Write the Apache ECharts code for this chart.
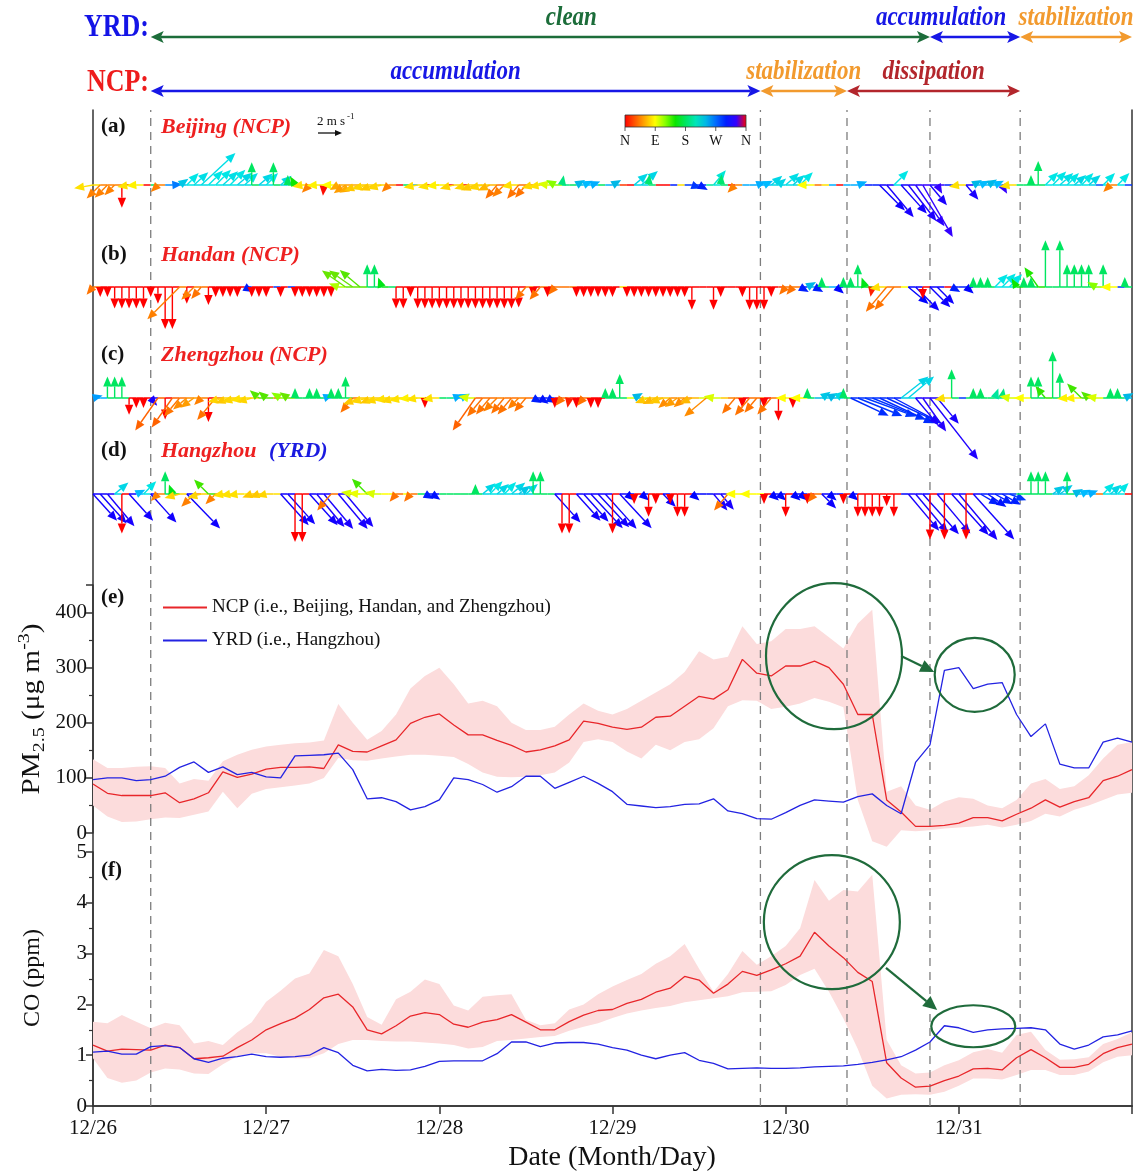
<!DOCTYPE html>
<html>
<head>
<meta charset="utf-8">
<title>Wind, PM2.5 and CO over NCP and YRD</title>
<script src="https://cdn.jsdelivr.net/npm/echarts@6/dist/echarts.min.js"></script>
<style>
html,body{margin:0;padding:0;background:#fff;}
#chart{width:1140px;height:1173px;}
</style>
</head>
<body>
<div id="chart"></div>
<script>
// x axis is hours since 12/26 00:00
var dayLabels = ['12/26', '12/27', '12/28', '12/29', '12/30', '12/31'];
var phaseBreaks = [8, 92.5, 104.5, 116, 128.5];
var yrdPhases = [['clean', 8, 116], ['accumulation', 116, 128.5], ['stabilization', 128.5, 144]];
var ncpPhases = [['accumulation', 8, 92.5], ['stabilization', 92.5, 104.5], ['dissipation', 104.5, 128.5]];

// PM2.5 / CO, one value every 2 h
var STEP = 2;
var ncpPm = [89,72,68,68,68,73,55,62,73,111,101,107,
  116,119,119,120,117,160,148,147,158,169,199,210,
  216,196,178,178,168,159,147,151,158,169,203,199,
  192,188,192,210,212,230,248,243,260,315,290,285,
  303,303,312,300,270,215,215,60,38,12,12,14,
  18,28,28,22,34,45,60,47,57,64,95,103,
  115];
var ncpPmHi = [134,118,118,120,121,118,90,98,95,130,142,151,
  157,160,163,164,168,234,200,169,185,215,262,285,
  300,270,235,240,230,200,187,187,193,215,235,222,
  215,225,240,255,270,292,330,315,320,375,343,348,
  370,370,375,355,335,380,405,75,85,50,42,57,
  65,62,50,45,60,90,98,80,85,105,135,160,
  165];
var ncpPmLo = [50,30,20,21,25,28,27,33,39,75,45,71,
  80,83,86,90,100,136,132,131,135,139,142,142,
  140,138,125,110,102,101,102,105,110,128,165,170,
  165,148,135,160,150,165,170,190,230,241,240,225,
  229,235,245,238,228,60,-15,-25,5,3,5,8,
  10,12,15,10,15,22,35,30,42,50,60,70,
  73];
var yrdPm = [97,100,100,95,97,103,119,129,110,120,106,110,
  102,100,140,141,142,145,115,62,64,57,42,48,
  60,100,97,88,74,84,103,103,81,92,103,90,
  75,52,49,46,48,52,53,62,40,35,26,25,
  37,50,60,58,56,66,71,50,35,128,160,295,
  300,262,270,273,215,175,198,125,118,118,165,172,
  165];

var ncpCo = [1.20,1.08,1.12,1.11,1.10,1.20,1.15,0.93,0.95,0.98,1.15,1.30,
  1.50,1.62,1.73,1.90,2.13,2.20,1.95,1.50,1.42,1.58,1.77,1.84,
  1.80,1.61,1.55,1.65,1.70,1.80,1.65,1.50,1.50,1.66,1.79,1.88,
  1.90,2.02,2.10,2.24,2.32,2.55,2.48,2.22,2.40,2.65,2.57,2.68,
  2.80,2.95,3.42,3.15,2.92,2.63,2.45,0.85,0.55,0.37,0.39,0.50,
  0.59,0.73,0.74,0.71,0.95,1.11,0.95,0.76,0.76,0.82,1.03,1.15,
  1.22];
var ncpCoHi = [1.66,1.63,1.79,1.66,1.53,1.64,1.59,1.23,1.28,1.20,1.45,1.65,
  2.05,2.27,2.51,2.61,3.07,2.95,2.40,1.75,1.60,2.10,2.25,2.49,
  2.40,1.98,1.88,2.15,2.18,2.20,1.70,1.59,1.63,1.90,2.00,2.20,
  2.35,2.48,2.60,2.80,2.95,3.19,2.70,2.25,2.60,3.05,2.78,2.95,
  3.15,3.50,4.45,4.04,4.25,4.22,4.55,1.30,0.80,0.64,0.66,0.80,
  0.90,1.06,1.12,1.05,1.40,1.46,1.10,0.91,0.92,0.96,1.22,1.32,
  1.45];
var ncpCoLo = [0.94,0.55,0.46,0.50,0.66,0.74,0.72,0.64,0.63,0.82,0.98,1.04,
  1.04,0.97,0.94,0.94,1.04,1.22,1.30,1.30,1.28,1.27,1.27,1.25,
  1.23,1.20,1.13,1.16,1.28,1.30,1.33,1.36,1.38,1.48,1.56,1.63,
  1.73,1.82,1.88,1.93,1.97,2.04,2.08,2.12,2.16,2.24,2.25,2.26,
  2.38,2.58,2.70,2.25,1.72,1.12,0.40,0.15,0.22,0.23,0.22,0.28,
  0.40,0.54,0.54,0.52,0.61,0.71,0.71,0.61,0.61,0.68,0.86,0.97,
  1.00];
var yrdCo = [1.06,1.08,1.02,1.02,1.17,1.19,1.15,0.93,0.86,0.94,0.97,1.02,
  0.97,0.96,0.97,1.00,1.15,1.05,0.80,0.69,0.72,0.70,0.71,0.78,
  0.88,0.89,0.89,0.89,1.03,1.26,1.26,1.17,1.24,1.25,1.25,1.22,
  1.15,1.10,1.00,0.93,1.00,1.05,0.90,0.84,0.73,0.74,0.75,0.74,
  0.74,0.75,0.77,0.78,0.79,0.82,0.86,0.91,0.97,1.10,1.26,1.58,
  1.54,1.45,1.50,1.52,1.53,1.54,1.50,1.22,1.12,1.20,1.36,1.40,
  1.48];

// hourly wind: direction the wind blows from (deg) and speed (m/s)
var bjDir = [80,45,45,45,0,80,85,0,180,45,260,265,235,225,228,227,225,225,228,225,230,228,180,230,
  225,180,230,180,150,80,45,85,5,90,60,55,60,70,75,70,75,45,0,180,250,80,0,80,
  85,0,75,0,75,70,75,65,40,45,80,40,40,75,80,100,120,190,180,240,245,250,180,250,
  240,20,0,230,230,185,0,0,300,80,290,290,300,200,220,185,0,45,250,250,250,245,230,230,
  228,230,225,90,40,80,250,0,250,250,250,300,300,315,320,225,318,322,325,330,320,330,300,300,
  80,320,240,245,240,245,330,80,180,180,180,180,225,225,228,225,230,225,230,280,225,45,225,290];
var bjSpd = [1.6,1.6,1.5,1.2,1.9,1.0,0.6,0.2,0.2,0.6,0.2,0.3,0.9,1.4,1.6,3.9,1.7,1.8,1.7,1.8,1.6,1.5,1.9,1.5,
  1.4,1.9,1.2,0.8,0.6,0.6,0.9,0.7,0.9,0.7,0.5,1.2,1.3,1.4,1.3,1.3,1.2,0.8,0.1,0.1,0.1,1.2,0.1,1.2,
  1.1,0.1,1.2,0.1,1.2,1.3,1.2,1.1,1.5,1.4,0.8,1.5,1.4,1.0,1.0,0.8,0.8,0.7,0.2,0.8,0.7,0.8,0.1,0.1,
  0.8,0.1,0.1,1.5,1.8,0.9,0.1,0.1,0.1,0.1,0.1,0.8,0.3,0.2,1.6,0.9,0.1,0.9,0.1,0.1,0.6,0.6,1.2,0.8,
  1.5,1.3,1.5,0.9,0.1,0.1,0.1,0.1,0.1,0.1,0.7,0.1,0.1,3.0,3.5,1.7,3.2,3.8,4.2,5.0,2.2,0.7,0.1,0.1,
  0.6,1.6,0.8,0.8,0.9,0.7,0.6,0.7,0.1,0.1,0.7,2.0,1.5,1.6,1.5,1.4,1.3,1.4,1.3,0.1,1.4,0.6,1.4,0.1];

var hdDir = [40,0,0,0,0,0,0,0,0,0,0,0,45,0,45,40,0,0,0,0,0,300,0,0,
  0,290,0,290,0,0,0,0,0,0,110,125,125,130,180,180,160,180,0,0,0,0,0,0,
  0,0,0,0,0,0,0,0,0,0,0,0,40,0,40,0,40,40,40,0,0,0,0,0,
  0,80,0,0,0,0,0,0,0,0,0,0,0,0,0,0,0,0,0,0,0,0,0,20,
  40,40,300,240,300,180,250,310,180,180,180,160,10,80,40,40,90,310,315,0,315,315,0,300,
  300,310,180,180,180,225,225,225,150,180,180,145,180,180,180,180,180,180,180,120,180,90,290,180];
var hdSpd = [0.5,0.6,0.6,1.8,1.8,1.8,1.8,1.8,0.6,1.4,3.5,3.5,3.8,1.4,1.5,1.3,1.5,0.7,0.7,0.7,0.7,0.5,0.6,0.6,
  0.6,0.1,0.6,0.1,0.7,0.7,0.7,0.7,0.7,0.7,0.6,2.4,2.4,2.2,1.9,1.9,0.5,0.1,1.8,1.8,0.7,1.8,1.8,1.8,
  1.8,1.8,1.8,1.8,1.8,1.8,1.8,1.8,1.8,1.8,1.8,1.7,1.4,0.6,1.4,0.6,0.6,0.1,0.1,0.6,0.6,0.6,0.6,0.6,
  0.6,0.1,0.7,0.7,0.7,0.7,0.7,0.7,0.7,0.7,0.7,1.9,0.1,0.1,1.9,0.7,0.1,0.1,0.7,1.9,1.9,1.9,0.7,0.1,
  0.6,0.6,0.8,0.7,0.6,0.8,0.1,0.8,0.8,0.8,1.9,0.7,0.7,0.6,2.7,2.5,0.1,2.2,2.8,1.0,2.4,2.0,0.1,0.8,
  0.1,0.8,0.8,0.8,0.8,1.5,1.6,1.5,0.7,0.8,0.8,2.0,3.9,0.1,3.9,1.9,1.9,1.9,1.9,0.8,1.9,0.6,0.1,0.7];

var zzDir = [255,250,180,180,180,0,0,0,320,35,0,35,40,50,55,45,0,40,75,70,75,80,75,130,
  130,40,120,125,180,180,180,180,250,180,180,180,40,70,75,70,75,80,75,80,85,80,0,80,
  180,190,250,245,100,35,40,40,45,40,40,45,40,300,305,300,0,40,10,0,40,0,0,180,
  180,180,100,240,100,70,65,70,50,55,50,65,100,50,100,70,45,40,0,40,40,0,40,0,
  90,0,90,180,240,235,240,230,180,295,292,290,292,295,295,298,232,230,320,325,322,320,80,180,
  290,180,180,180,180,200,190,100,100,90,180,180,140,180,180,85,85,135,130,100,180,180,180,240];
var zzSpd = [0.6,0.1,1.8,1.8,1.8,1.4,0.6,0.6,0.5,3.3,1.8,3.0,2.0,1.5,1.4,0.8,2.0,2.4,1.3,1.3,1.3,1.2,1.3,1.0,
  0.8,0.1,0.9,0.8,0.8,0.1,0.8,0.8,0.6,0.8,0.8,1.8,1.6,1.5,1.4,1.3,1.4,1.2,1.3,1.2,1.0,1.0,0.7,0.6,
  0.1,0.1,0.6,0.6,0.7,3.3,2.0,1.8,1.6,1.7,1.8,1.3,1.5,0.7,0.7,0.6,0.6,0.6,0.6,0.6,0.6,0.6,0.6,0.7,
  0.7,2.0,0.1,0.8,0.1,1.2,1.2,1.2,1.3,1.3,1.2,1.1,0.1,2.4,0.8,0.1,0.1,1.7,0.7,1.9,1.6,0.7,1.8,1.9,
  0.7,0.7,0.6,0.8,0.1,0.9,0.8,0.9,0.8,3.5,4.0,4.5,4.8,5.0,5.0,4.5,2.9,2.8,3.0,3.4,6.5,2.8,0.6,2.4,
  0.1,0.1,0.8,0.8,0.1,0.8,0.8,0.6,0.1,0.6,1.8,1.8,1.3,3.9,2.1,0.8,0.8,1.7,0.8,0.7,0.1,0.8,0.8,0.8];

var hzDir = [318,318,320,230,0,318,245,225,318,45,180,160,75,316,45,75,135,45,80,80,80,90,70,70,
  75,80,318,318,0,0,318,320,320,40,320,320,100,95,135,100,90,90,40,90,40,180,300,305,
  180,180,180,180,180,180,230,225,230,225,230,235,230,180,180,180,318,0,0,318,318,317,317,318,
  0,317,310,0,310,0,0,315,0,0,0,310,310,310,320,320,40,90,45,90,90,0,310,310,
  0,310,310,0,40,315,310,310,0,310,0,0,0,0,0,0,310,320,320,318,0,320,0,318,
  320,0,318,300,305,300,300,290,180,180,180,180,180,235,235,180,240,245,250,40,225,230,225,0];
var hzSpd = [3.0,3.3,3.5,1.5,3.3,3.0,0.8,1.5,3.2,0.7,1.9,0.7,1.3,4.0,1.5,1.2,1.7,1.2,0.8,0.8,0.8,0.1,0.8,0.8,
  0.8,0.1,3.5,3.4,4.0,4.0,3.5,3.6,3.8,1.8,3.8,3.6,1.0,1.0,1.8,0.8,0.1,0.1,0.6,0.1,0.6,0.1,0.8,0.8,
  0.1,0.1,0.1,0.1,0.1,0.7,1.4,1.5,1.3,1.4,1.5,1.2,1.3,1.9,1.9,0.1,3.2,3.3,3.3,3.0,3.1,3.9,3.8,3.9,
  3.3,3.9,0.8,0.7,0.8,1.9,0.7,1.5,0.7,1.9,1.9,0.8,0.1,0.1,1.8,1.7,1.8,0.8,0.1,0.8,0.1,0.7,0.7,0.7,
  1.9,0.8,0.8,0.7,0.9,1.7,0.8,0.1,0.7,0.7,1.9,1.9,1.9,1.9,1.0,1.9,0.1,4.0,4.2,4.5,3.8,4.3,3.8,4.6,
  5.0,3.8,5.1,1.8,1.9,1.7,1.8,1.5,0.1,0.1,1.9,1.9,1.9,1.2,1.3,1.9,0.6,0.6,0.6,0.1,1.3,1.2,1.3,0.1];

var NCP_NAME = 'NCP (i.e., Beijing, Handan, and Zhengzhou)';
var YRD_NAME = 'YRD (i.e., Hangzhou)';
var FONT = '"Liberation Serif","Times New Roman",serif';
var RED = '#e8262a', BLUE = '#2323e2', PINK = '#fcdcdc';
var GREEN_DARK = '#1f6b3b';
var PHASE_COLOR = {clean: '#1c6d3a', accumulation: '#1717e6', stabilization: '#f29a2e', dissipation: '#b3262c'};
var ROW_Y = {YRD: {arrow: 37, label: 18}, NCP: {arrow: 91, label: 72}};
var LABEL_NUDGE = {'YRD-clean': 31, 'YRD-accumulation': -34};
var CITY_LEVEL = [75, 177, 288, 384];   // baseline offset of each station row inside the wind panel
var PX_PER_MS = 12, HEAD_LEN = 10, HEAD_HALF = 4.2;
var HUE_AT = [0, 60, 145, 215, 270];     // colour wheel used for wind direction N-E-S-W-N

function dirHue(d) {
  d = ((d % 360) + 360) % 360;
  var q = d / 90, i = Math.min(3, Math.floor(q));
  return HUE_AT[i] + (HUE_AT[i + 1] - HUE_AT[i]) * (q - i);
}
function dirColor(d) {
  var h = dirHue(d);
  var l = (h > 90 && h < 195) ? 45 : 50;
  return 'hsl(' + h.toFixed(0) + ',100%,' + l + '%)';
}
function pairs(vals) {
  return vals.map(function (v, i) { return [i * STEP, v]; });
}

function windRenderer(level) {
  return function (params, api) {
    var t = api.value(0), dir = api.value(1), spd = api.value(2);
    var p = api.coord([t, level]), q = api.coord([t + 1, level]);
    var col = dirColor(dir);
    var kids = [{type: 'line', shape: {x1: p[0], y1: p[1], x2: q[0], y2: q[1]}, style: {stroke: col, lineWidth: 1.5}}];
    if (spd >= 0.3) {
      var L = Math.max(spd * PX_PER_MS, HEAD_LEN);
      var a = dir * Math.PI / 180;
      var ux = -Math.sin(a), uy = Math.cos(a);
      var ex = p[0] + ux * L, ey = p[1] + uy * L;
      var bx = ex - ux * HEAD_LEN, by = ey - uy * HEAD_LEN;
      if (L > HEAD_LEN + 0.5) {
        kids.push({type: 'line', shape: {x1: p[0], y1: p[1], x2: bx, y2: by}, style: {stroke: col, lineWidth: 1.4}});
      }
      kids.push({type: 'polygon', shape: {points: [[ex, ey], [bx - uy * HEAD_HALF, by + ux * HEAD_HALF], [bx + uy * HEAD_HALF, by - ux * HEAD_HALF]]}, style: {fill: col}});
    }
    return {type: 'group', children: kids};
  };
}
function windSeries(dirs, spds, idx) {
  return {
    type: 'custom', xAxisIndex: 1, yAxisIndex: 1, silent: true, z: 4,
    data: dirs.map(function (d, i) { return [i, d, spds[i]]; }),
    renderItem: windRenderer(CITY_LEVEL[idx])
  };
}

function bandSeries(lo, hi, axis) {
  return {
    type: 'custom', xAxisIndex: axis, yAxisIndex: axis, silent: true, z: 1,
    data: lo.map(function (v, i) { return [i * STEP, v, hi[i]]; }),
    renderItem: function (params, api) {
      if (params.dataIndex !== 0) return;
      var pts = [];
      hi.forEach(function (v, i) { pts.push(api.coord([i * STEP, v])); });
      for (var i = lo.length - 1; i >= 0; i--) pts.push(api.coord([i * STEP, lo[i]]));
      return {type: 'polygon', shape: {points: pts}, style: {fill: PINK}};
    }
  };
}
function lineSeries(name, vals, color, axis) {
  return {
    name: name, type: 'line', xAxisIndex: axis, yAxisIndex: axis, z: 5,
    data: pairs(vals), showSymbol: false, symbol: 'none',
    lineStyle: {color: color, width: 1.3}, itemStyle: {color: color}
  };
}

var phaseList = yrdPhases.map(function (p) { return ['YRD'].concat(p); })
  .concat(ncpPhases.map(function (p) { return ['NCP'].concat(p); }));

function renderPhase(params, api) {
  var p = phaseList[params.dataIndex];
  var xa = api.coord([p[2], 0])[0], xb = api.coord([p[3], 0])[0];
  var y = ROW_Y[p[0]].arrow, ly = ROW_Y[p[0]].label;
  var c = PHASE_COLOR[p[1]];
  var H = 13, W = 6;
  var shift = LABEL_NUDGE[p[0] + '-' + p[1]] || 0;
  return {type: 'group', children: [
    {type: 'line', shape: {x1: xa + H - 3, y1: y, x2: xb - H + 3, y2: y}, style: {stroke: c, lineWidth: 2.6}},
    {type: 'polygon', shape: {points: [[xa, y], [xa + H, y - W], [xa + H - 3, y], [xa + H, y + W]]}, style: {fill: c}},
    {type: 'polygon', shape: {points: [[xb, y], [xb - H, y - W], [xb - H + 3, y], [xb - H, y + W]]}, style: {fill: c}},
    {type: 'text', x: (xa + xb) / 2 + shift, y: ly, scaleY: 1.2,
      style: {text: p[1], font: 'italic bold 23px ' + FONT, fill: c, align: 'center', verticalAlign: 'middle', textAlign: 'center', textVerticalAlign: 'middle'}}
  ]};
}

var axisLineStyle = {color: '#333', width: 1.5};
var axisFont = {fontFamily: FONT, fontSize: 21, color: '#111'};

var option = {
  animation: false,
  backgroundColor: '#fff',
  legend: {
    left: 158, top: 592, orient: 'vertical', icon: 'rect', itemWidth: 44, itemHeight: 2, itemGap: 12,
    textStyle: {fontFamily: FONT, fontSize: 19, color: '#111', lineHeight: 21},
    data: [NCP_NAME, YRD_NAME], selectedMode: false
  },
  grid: [
    {left: 93, right: 8, top: 0, height: 105},
    {left: 93, right: 8, top: 110, height: 473},
    {left: 93, right: 8, top: 585, height: 248},
    {left: 93, right: 8, top: 852, height: 254},
    {left: 93, right: 8, top: 110, height: 996}
  ],
  xAxis: [
    {type: 'value', gridIndex: 0, min: 0, max: 144, show: false},
    {type: 'value', gridIndex: 1, min: 0, max: 144, show: false},
    {type: 'value', gridIndex: 2, min: 0, max: 144, show: false},
    {type: 'value', gridIndex: 3, min: 0, max: 144, interval: 24,
      axisLine: {lineStyle: axisLineStyle},
      axisTick: {length: 8, lineStyle: axisLineStyle},
      axisLabel: Object.assign({margin: 12, formatter: function (v) { return dayLabels[v / 24] || ''; }}, axisFont),
      splitLine: {show: false}},
    {type: 'value', gridIndex: 4, min: 0, max: 144, position: 'top',
      axisLine: {lineStyle: axisLineStyle}, axisTick: {show: false}, axisLabel: {show: false}, splitLine: {show: false}}
  ],
  yAxis: [
    {type: 'value', gridIndex: 0, min: 0, max: 1, show: false},
    {type: 'value', gridIndex: 1, min: 0, max: 473, inverse: true, show: false},
    {type: 'value', gridIndex: 2, min: 0, max: 450, interval: 100,
      axisLine: {show: true, lineStyle: axisLineStyle},
      axisTick: {show: true, length: 7, lineStyle: axisLineStyle},
      minorTick: {show: true, splitNumber: 2, length: 4, lineStyle: {color: '#333', width: 1.2}},
      axisLabel: Object.assign({margin: 6, showMaxLabel: false}, axisFont),
      splitLine: {show: false}},
    {type: 'value', gridIndex: 3, min: 0, max: 5, interval: 1,
      axisLine: {show: true, lineStyle: axisLineStyle},
      axisTick: {show: true, length: 7, lineStyle: axisLineStyle},
      minorTick: {show: true, splitNumber: 2, length: 4, lineStyle: {color: '#333', width: 1.2}},
      axisLabel: Object.assign({margin: 6}, axisFont),
      splitLine: {show: false}},
    {type: 'value', gridIndex: 4, min: 0, max: 1,
      axisLine: {show: true, lineStyle: axisLineStyle}, axisTick: {show: false}, axisLabel: {show: false}, splitLine: {show: false}},
    {type: 'value', gridIndex: 4, min: 0, max: 1, position: 'right',
      axisLine: {show: true, lineStyle: axisLineStyle}, axisTick: {show: false}, axisLabel: {show: false}, splitLine: {show: false}}
  ],
  series: [
    {
      type: 'custom', xAxisIndex: 4, yAxisIndex: 4, silent: true, z: 2,
      data: phaseBreaks.map(function (t) { return [t, 0]; }),
      renderItem: function (params, api) {
        var a = api.coord([api.value(0), 0]), b = api.coord([api.value(0), 1]);
        return {type: 'line', shape: {x1: a[0], y1: a[1], x2: b[0], y2: b[1]},
          style: {stroke: '#7d7d7d', lineWidth: 1.3, lineDash: [8, 6]}};
      }
    },
    {
      type: 'custom', xAxisIndex: 0, yAxisIndex: 0, silent: true,
      data: phaseList.map(function (p) { return [p[2], p[3]]; }),
      renderItem: renderPhase
    },
    windSeries(bjDir, bjSpd, 0),
    windSeries(hdDir, hdSpd, 1),
    windSeries(zzDir, zzSpd, 2),
    windSeries(hzDir, hzSpd, 3),
    bandSeries(ncpPmLo, ncpPmHi, 2),
    lineSeries(NCP_NAME, ncpPm, RED, 2),
    lineSeries(YRD_NAME, yrdPm, BLUE, 2),
    bandSeries(ncpCoLo, ncpCoHi, 3),
    lineSeries(NCP_NAME, ncpCo, RED, 3),
    lineSeries(YRD_NAME, yrdCo, BLUE, 3)
  ]
};

var chart = echarts.init(document.getElementById('chart'));
chart.setOption(option);

// ---- annotations (texts, colour bar, focus circles) ----
function text(x, y, str, font, color, align, extra) {
  var el = {type: 'text', x: x, y: y, silent: true, z: 20,
    style: {text: str, font: font, fill: color, align: align || 'left', verticalAlign: 'middle',
      textAlign: align || 'left', textVerticalAlign: 'middle'}};
  if (extra) Object.keys(extra).forEach(function (k) { el[k] = extra[k]; });
  return el;
}
function arrow(x1, y1, x2, y2, color, head, half, w) {
  var dx = x2 - x1, dy = y2 - y1, len = Math.sqrt(dx * dx + dy * dy);
  var ux = dx / len, uy = dy / len;
  var bx = x2 - ux * head, by = y2 - uy * head;
  return [
    {type: 'line', silent: true, z: 20, shape: {x1: x1, y1: y1, x2: bx, y2: by}, style: {stroke: color, lineWidth: w}},
    {type: 'polygon', silent: true, z: 20, shape: {points: [[x2, y2], [bx - uy * half, by + ux * half], [bx + uy * half, by - ux * half]]}, style: {fill: color}}
  ];
}

var pmFocus = [[102.7, 321, 68, 73], [122.2, 287, 40, 37]];
var pmLink = [[112.0, 321], [116.6, 292]];
var coFocus = [[102.4, 3.62, 68, 67], [122.0, 1.57, 42, 21]];
var coLink = [[109.9, 2.72], [117.0, 1.89]];

var g = [];
var SER_BI = 'italic bold 22px ' + FONT, SER_B = 'bold 21px ' + FONT;
g.push(text(149, 28, 'YRD:', 'bold 26px ' + FONT, '#1414e6', 'right', {scaleY: 1.2}));
g.push(text(149, 83, 'NCP:', 'bold 26px ' + FONT, '#ee1c1c', 'right', {scaleY: 1.2}));

[['(a)', 127, 'Beijing (NCP)'], ['(b)', 255, 'Handan (NCP)'], ['(c)', 355, 'Zhengzhou (NCP)'], ['(d)', 451, 'Hangzhou']].forEach(function (r) {
  g.push(text(101, r[1], r[0], SER_B, '#111'));
  g.push(text(161, r[1], r[2], SER_BI, '#ee2020'));
});
g.push(text(269, 451, '(YRD)', SER_BI, '#1a1ae0'));
g.push(text(101, 598, '(e)', SER_B, '#111'));
g.push(text(101, 871, '(f)', SER_B, '#111'));

// wind scale
g.push(text(317, 122, '2 m s', '13px ' + FONT, '#111'));
g.push(text(347, 117, '-1', '9px ' + FONT, '#111'));
g = g.concat(arrow(318, 133, 342, 133, '#111', 7, 3, 1.3));

// colour bar for wind direction
var cbX = 625, cbY = 115, cbW = 121, cbH = 12;
var stops = [];
for (var k = 0; k <= 12; k++) stops.push({offset: k / 12, color: dirColor(k * 30)});
g.push({type: 'rect', silent: true, z: 20, shape: {x: cbX, y: cbY, width: cbW, height: cbH},
  style: {fill: new echarts.graphic.LinearGradient(0, 0, 1, 0, stops), stroke: '#333', lineWidth: 0.8}});
['N', 'E', 'S', 'W', 'N'].forEach(function (s, i) {
  var x = cbX + i * cbW / 4;
  g.push({type: 'line', silent: true, z: 20, shape: {x1: x, y1: cbY + cbH, x2: x, y2: cbY + cbH + 4}, style: {stroke: '#333', lineWidth: 0.8}});
  g.push(text(x, 141, s, '14px ' + FONT, '#111', 'center'));
});

// axis names
g.push({type: 'text', x: 32, y: 709, rotation: Math.PI / 2, scaleX: 1.17, silent: true, z: 20,
  style: {text: '{a|PM}{s|2.5}{a| (\u03bcg m}{p|-3}{a|)}', align: 'center', verticalAlign: 'middle',
    textAlign: 'center', textVerticalAlign: 'middle', font: '25px ' + FONT, fill: '#111',
    rich: {
      a: {fontSize: 25, fontFamily: FONT, fill: '#111', color: '#111', lineHeight: 32, verticalAlign: 'middle'},
      s: {fontSize: 17, fontFamily: FONT, fill: '#111', color: '#111', lineHeight: 17, verticalAlign: 'bottom'},
      p: {fontSize: 17, fontFamily: FONT, fill: '#111', color: '#111', lineHeight: 17, verticalAlign: 'top'}
    }}});
g.push(text(33, 978, 'CO (ppm)', '24px ' + FONT, '#111', 'center', {rotation: Math.PI / 2}));
g.push(text(612, 1158, 'Date (Month/Day)', '28px ' + FONT, '#111', 'center'));

function focus(list, link, grid) {
  list.forEach(function (c) {
    var p = chart.convertToPixel({gridIndex: grid}, [c[0], c[1]]);
    g.push({type: 'ellipse', silent: true, z: 20, shape: {cx: p[0], cy: p[1], rx: c[2], ry: c[3]},
      style: {fill: 'none', stroke: GREEN_DARK, lineWidth: 2.2}});
  });
  var a = chart.convertToPixel({gridIndex: grid}, link[0]);
  var b = chart.convertToPixel({gridIndex: grid}, link[1]);
  g = g.concat(arrow(a[0], a[1], b[0], b[1], GREEN_DARK, 14, 6.5, 2.2));
}
focus(pmFocus, pmLink, 2);
focus(coFocus, coLink, 3);

chart.setOption({graphic: {elements: g}});
</script>
</body>
</html>
